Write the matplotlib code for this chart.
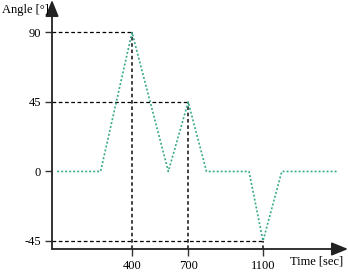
import matplotlib.pyplot as plt

# angle profile
time = [0, 232, 400, 594, 700, 798, 1025, 1100, 1200, 1500]
angle = [0, 0, 90, 0, 45, 0, 0, -45, 0, 0]

# marked points
mark_t = [400, 700, 1100]
mark_a = [90, 45, -45]

xticks = [400, 700, 1100]
yticks = [-45, 0, 45, 90]

plt.rcParams['font.family'] = 'Liberation Serif'
plt.rcParams['font.size'] = 9
plt.rcParams['axes.unicode_minus'] = False

fig = plt.figure(figsize=(3.48, 2.78), dpi=100)
ax = fig.add_axes([52 / 348, 29 / 278, 1 - 52 / 348, 1 - 29 / 278])
x0, x1 = -27.6, 1554
y0, y1 = -50.2, 111
ax.set_xlim(x0, x1)
ax.set_ylim(y0, y1)

for t, a in zip(mark_t, mark_a):
    ax.plot([x0, t], [a, a], color='black', ls=(0, (3, 2)), lw=0.9)
    ax.plot([t, t], [y0, a], color='#333333', ls=(0, (2, 1.5)), lw=1.3)

ax.plot(time, angle, color='#3aaa8c', ls=(0, (1.2, 1.2)), lw=1.2)

for s in ax.spines.values():
    s.set_visible(False)
arrow = dict(arrowstyle='-|>,head_length=1.1,head_width=0.45',
             color='#222222', lw=1.3, shrinkA=0, shrinkB=0)
ax.annotate('', xy=(1, 0), xytext=(0, 0), xycoords='axes fraction', arrowprops=arrow)
ax.annotate('', xy=(0, 1), xytext=(0, 0), xycoords='axes fraction', arrowprops=arrow)

ax.set_xticks(xticks)
ax.set_yticks(yticks)
ax.tick_params(length=5, width=1, color='#333333', pad=3)
fig.text(2 / 348, 1 - 10 / 278, 'Angle [°]', ha='left', va='center')
fig.text(290 / 348, 1 - 262 / 278, 'Time [sec]', ha='left', va='center')

fig.savefig('out.png', dpi=100)
